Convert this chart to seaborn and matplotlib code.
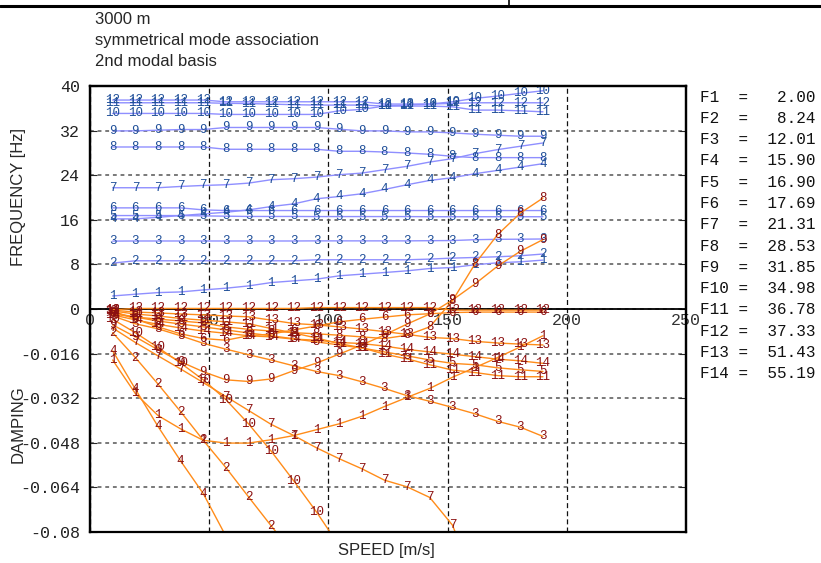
import numpy as np
import pandas as pd
import matplotlib
matplotlib.use("Agg")
import matplotlib.pyplot as plt
from matplotlib.lines import Line2D
import seaborn as sns
from matplotlib.ticker import FixedLocator, FuncFormatter

nan = np.nan

# flight speed [m/s] at which the modes were computed
speeds = [9.5, 19.0, 28.5, 38.0, 47.5, 57.0, 66.5, 76.0, 85.5, 95.0,
          104.5, 114.0, 123.5, 133.0, 142.5, 152.0, 161.5, 171.0, 180.5, 190.0]

# modal frequencies [Hz]
freq_1 = [2.34, 2.65, 2.94, 3.06, 3.42, 3.73, 4.14, 4.74, 5.05, 5.35,
          5.95, 6.25, 6.54, 6.85, 7.26, 7.44, 7.93, 8.29, 8.47, 8.77]
freq_2 = [8.23, 8.65, 8.65, 8.65, 8.65, 8.65, 8.65, 8.65, 8.65, 8.83,
          8.83, 8.83, 8.83, 8.83, 8.95, 9.13, 9.24, 9.37, 9.55, 9.86]
freq_3 = [12.18, 12.20, 12.20, 12.20, 12.20, 12.20, 12.20, 12.20, 12.20, 12.22,
          12.22, 12.22, 12.22, 12.22, 12.25, 12.28, 12.43, 12.50, 12.52, 12.56]
freq_4 = [16.16, 16.16, 16.45, 16.76, 17.06, 17.35, 17.78, 18.38, 18.86, 19.77,
          20.18, 20.67, 21.44, 22.29, 23.06, 23.55, 24.27, 24.86, 25.46, 26.07]
freq_5 = [16.76, 16.76, 16.76, 16.76, 16.70, 16.65, 16.60, 16.60, 16.60, 16.58,
          16.58, 16.58, 16.58, 16.58, 16.55, 16.55, 16.55, 16.55, 16.55, 16.55]
freq_6 = [18.14, 18.14, 18.14, 18.14, 17.78, 17.66, 17.66, 17.66, 17.66, 17.66,
          17.66, 17.66, 17.66, 17.66, 17.66, 17.66, 17.66, 17.66, 17.66, 17.66]
freq_7 = [21.75, 21.75, 21.75, 21.98, 22.16, 22.29, 22.58, 23.19, 23.37, 23.66,
          24.09, 24.38, 24.99, 25.59, 26.36, 26.97, 27.87, 28.59, 29.19, 29.78]
freq_8 = [29.06, 29.06, 29.06, 29.06, 29.06, 28.65, 28.65, 28.65, 28.65, 28.65,
          28.29, 28.29, 28.16, 27.98, 27.75, 27.39, 27.15, 27.15, 27.15, 27.15]
freq_9 = [31.95, 31.95, 32.07, 32.19, 32.19, 32.56, 32.56, 32.56, 32.56, 32.56,
          32.25, 31.95, 31.95, 31.77, 31.77, 31.59, 31.35, 31.17, 30.99, 30.99]
freq_10 = [35.08, 35.08, 35.08, 35.08, 35.08, 34.90, 34.90, 34.90, 34.90, 34.90,
           35.55, 35.80, 36.40, 36.58, 36.76, 37.17, 37.78, 38.20, 38.68, 39.15]
freq_11 = [36.99, 36.99, 36.99, 36.99, 36.99, 36.90, 36.85, 36.75, 36.65, 36.58,
           36.58, 36.58, 36.40, 36.40, 36.40, 36.27, 35.68, 35.68, 35.55, 35.37]
freq_12 = [37.48, 37.48, 37.48, 37.48, 37.48, 37.17, 37.17, 37.17, 37.17, 37.17,
           37.17, 37.17, 36.76, 36.76, 36.76, 36.88, 36.99, 36.99, 36.99, 36.99]

# modal damping
damp_1 = [-0.0183, -0.0303, -0.0382, -0.0430, -0.0471, -0.0481, -0.0481, -0.0469, -0.0454, -0.0433,
          -0.0412, -0.0385, -0.0350, -0.0317, -0.0285, -0.0245, -0.0210, -0.0174, -0.0136, -0.0096]
damp_2 = [-0.0085, -0.0174, -0.0269, -0.0368, -0.0471, -0.0569, -0.0674, -0.0778, -0.0880, nan,
          nan, nan, nan, nan, nan, nan, nan, nan, nan, nan]
damp_3 = [-0.0025, -0.0053, -0.0071, -0.0096, -0.0123, -0.0144, -0.0164, -0.0183, -0.0204, -0.0224,
          -0.0239, -0.0261, -0.0285, -0.0311, -0.0331, -0.0353, -0.0376, -0.0403, -0.0424, -0.0457]
damp_4 = [-0.0150, -0.0287, -0.0421, -0.0545, -0.0662, -0.0815, -0.0940, nan, nan, nan,
          nan, nan, nan, nan, nan, nan, nan, nan, nan, nan]
damp_5 = [-0.0014, -0.0029, -0.0043, -0.0054, -0.0064, -0.0075, -0.0086, -0.0096, -0.0107, -0.0118,
          -0.0129, -0.0140, -0.0154, -0.0168, -0.0183, -0.0195, -0.0200, -0.0211, -0.0218, -0.0224]
damp_6 = [-0.0007, -0.0036, -0.0064, -0.0089, -0.0106, -0.0112, -0.0096, -0.0090, -0.0075, -0.0061,
          -0.0046, -0.0037, -0.0029, -0.0021, -0.0017, -0.0013, -0.0011, -0.0011, -0.0011, -0.0011]
damp_7 = [-0.0068, -0.0120, -0.0168, -0.0215, -0.0264, -0.0314, -0.0364, -0.0414, -0.0454, -0.0498,
          -0.0537, -0.0573, -0.0614, -0.0638, -0.0676, -0.0775, -0.0975, nan, nan, nan]
damp_8 = [-0.0018, -0.0029, -0.0036, -0.0043, -0.0050, -0.0064, -0.0073, -0.0079, -0.0085, -0.0089,
          -0.0094, -0.0100, -0.0106, -0.0094, -0.0064, 0.0029, 0.0162, 0.0267, 0.0344, 0.0398]
damp_9 = [-0.0057, -0.0100, -0.0146, -0.0189, -0.0225, -0.0254, -0.0260, -0.0251, -0.0221, -0.0194,
          -0.0162, -0.0129, -0.0093, -0.0054, -0.0018, 0.0032, 0.0090, 0.0154, 0.0207, 0.0249]
damp_10 = [-0.0037, -0.0085, -0.0138, -0.0194, -0.0254, -0.0325, -0.0412, -0.0510, -0.0617, -0.0728,
           -0.0849, nan, nan, nan, nan, nan, nan, nan, nan, nan]
damp_11 = [-0.0007, -0.0018, -0.0025, -0.0034, -0.0040, -0.0046, -0.0053, -0.0070, -0.0086, -0.0104,
           -0.0124, -0.0139, -0.0162, -0.0179, -0.0200, -0.0219, -0.0228, -0.0239, -0.0243, -0.0243]
damp_12 = [-0.0003, 0.0002, 0.0002, 0.0002, 0.0002, 0.0002, 0.0002, 0.0002, 0.0002, 0.0005,
           0.0005, 0.0005, 0.0005, 0.0005, 0.0005, -0.0004, -0.0004, -0.0004, -0.0004, -0.0004]
damp_13 = [-0.0004, -0.0011, -0.0014, -0.0018, -0.0021, -0.0025, -0.0028, -0.0040, -0.0052, -0.0057,
           -0.0064, -0.0072, -0.0081, -0.0091, -0.0102, -0.0106, -0.0116, -0.0122, -0.0126, -0.0129]
damp_14 = [-0.0021, -0.0039, -0.0055, -0.0068, -0.0079, -0.0087, -0.0096, -0.0100, -0.0108, -0.0112,
           -0.0120, -0.0124, -0.0133, -0.0145, -0.0154, -0.0162, -0.0171, -0.0180, -0.0186, -0.0195]

# still-air modal frequencies [Hz]
base_labels = ["F1", "F2", "F3", "F4", "F5", "F6", "F7",
               "F8", "F9", "F10", "F11", "F12", "F13", "F14"]
base_freqs = [2.00, 8.24, 12.01, 15.90, 16.90, 17.69, 21.31,
              28.53, 31.85, 34.98, 36.78, 37.33, 51.43, 55.19]

title_lines = ["3000 m", "symmetrical mode association", "2nd modal basis"]

freq_series = [freq_1, freq_2, freq_3, freq_4, freq_5, freq_6,
               freq_7, freq_8, freq_9, freq_10, freq_11, freq_12]
damp_series = [damp_1, damp_2, damp_3, damp_4, damp_5, damp_6, damp_7,
               damp_8, damp_9, damp_10, damp_11, damp_12, damp_13, damp_14]

FREQ_LIM = (-40, 40)
DAMP_LIM = (-0.08, 0.08)


def long_table(series):
    rows = []
    for k, vals in enumerate(series, start=1):
        for s, v in zip(speeds, vals):
            rows.append({"mode": k, "speed": s, "value": v})
    return pd.DataFrame(rows).dropna()


df_freq = long_table(freq_series)
df_damp = long_table(damp_series)

sns.set_style("white")
plt.rcParams["font.family"] = ["Liberation Sans", "DejaVu Sans"]
plt.rcParams["axes.unicode_minus"] = False

MONO = "Liberation Mono"
BLUE_LINE, BLUE_TEXT = "#8f8fff", "#1f4f99"
ORANGE_LINE, RED_TEXT = "#ff8c1a", "#8b1010"

fig = plt.figure(figsize=(8.21, 5.63), dpi=100)
L, R, T, B = 90, 686, 86, 532
W, H = 821, 563
ax = fig.add_axes([L / W, 1 - B / H, (R - L) / W, (B - T) / H])
ax2 = ax.twinx()


def label_points(axis, df, lim, color):
    # mode number written on every computed point inside the plot range
    inside = df[(df["value"] >= lim[0]) & (df["value"] <= lim[1])]
    for s, v, m in zip(inside["speed"], inside["value"], inside["mode"]):
        axis.text(s, v, str(m), color=color, fontsize=9, family=MONO,
                  ha="center", va="center", clip_on=True, zorder=4)


# frequency curves
sns.lineplot(data=df_freq, x="speed", y="value", units="mode", estimator=None,
             color=BLUE_LINE, lw=1.0, sort=False, legend=False, ax=ax)
label_points(ax, df_freq, FREQ_LIM, BLUE_TEXT)

# damping curves
sns.lineplot(data=df_damp, x="speed", y="value", units="mode", estimator=None,
             color=ORANGE_LINE, lw=1.0, sort=False, legend=False, ax=ax2)
label_points(ax2, df_damp, DAMP_LIM, RED_TEXT)

ax.set_xlim(0, 250)
ax.set_ylim(*FREQ_LIM)
ax2.set_ylim(*DAMP_LIM)

# x axis sits on the zero line
ax.spines["bottom"].set_position(("data", 0))
ax.spines["bottom"].set_linewidth(1.3)
for sp in ["left", "right", "top"]:
    ax.spines[sp].set_linewidth(1.6)
for sp in ax2.spines.values():
    sp.set_linewidth(1.6)
    sp.set_color("black")
for sp in ax.spines.values():
    sp.set_color("black")

ax.xaxis.set_major_locator(FixedLocator([0, 50, 100, 150, 200, 250]))
ax.yaxis.set_major_locator(FixedLocator([0, 8, 16, 24, 32, 40]))
ax2.yaxis.set_major_locator(FixedLocator([-0.016, -0.032, -0.048, -0.064, -0.08]))
ax2.yaxis.set_major_formatter(FuncFormatter(lambda v, p: f"{v:g}"))

ax.tick_params(axis="x", length=0, pad=3, labelsize=12, labelcolor="#333333")
ax.tick_params(axis="y", direction="in", length=5, left=True, right=True,
               labelleft=True, labelright=False, labelsize=12, pad=7,
               labelcolor="#222222")
ax2.tick_params(axis="y", direction="in", length=5, left=True, right=True,
                labelleft=True, labelright=False, labelsize=12, pad=7,
                labelcolor="#222222")
for lab in ax.get_xticklabels() + ax.get_yticklabels() + ax2.get_yticklabels():
    lab.set_family(MONO)

ax.set_xlabel("")
ax.set_ylabel("")
ax2.set_ylabel("")

# dashed grid
ax.grid(True, axis="x", color="#111111", ls=(0, (4, 2.5)), lw=0.9)
ax.grid(True, axis="y", color="#555555", ls=(0, (2.5, 2.5)), lw=1.1)
ax2.grid(True, axis="y", color="#555555", ls=(0, (2.5, 2.5)), lw=1.1)
ax.set_axisbelow(True)
ax2.set_axisbelow(True)

# page rule across the top
fig.add_artist(Line2D([0, 1], [1 - 5.5 / H, 1 - 5.5 / H], transform=fig.transFigure,
                      color="black", lw=2.2))
fig.add_artist(Line2D([509 / W, 509 / W], [1, 1 - 5.5 / H], transform=fig.transFigure,
                      color="black", lw=1.2))

# headings and axis titles
for i, line in enumerate(title_lines):
    fig.text(95 / W, 1 - (19 + 21.5 * i) / H, line, fontsize=12,
             ha="left", va="center")
fig.text(18 / W, 1 - 197 / H, "FREQUENCY [Hz]", rotation=90, fontsize=12,
         ha="center", va="center")
fig.text(18 / W, 1 - 424 / H, "DAMPING", rotation=90, fontsize=12,
         ha="center", va="center")
fig.text(386 / W, 1 - 551 / H, "SPEED [m/s]", fontsize=12, ha="center", va="center")

# still-air frequency list
for i, (lab, f) in enumerate(zip(base_labels, base_freqs)):
    fig.text(700 / W, 1 - (97 + 21.3 * i) / H, f"{lab:<3} = {f:6.2f}",
             family=MONO, fontsize=11.5, ha="left", va="center", color="#111111")

fig.savefig("out.png", dpi=100)
